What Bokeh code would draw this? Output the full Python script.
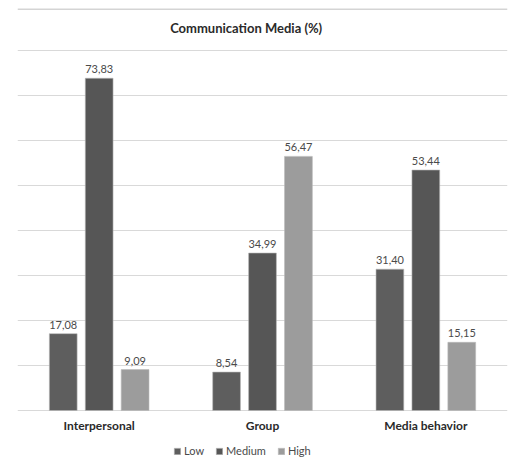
from bokeh.plotting import figure
from bokeh.models import (ColumnDataSource, FactorRange, Range1d, LabelSet, Label,
                          Span, Legend, LegendItem, FixedTicker)
from bokeh.transform import dodge
from bokeh.embed import file_html
from bokeh.resources import INLINE
from bokeh.core.properties import value

# Share of respondents (%) per communication medium and usage level
categories = ["Interpersonal", "Group", "Media behavior"]
low = [17.08, 8.54, 31.40]
medium = [73.83, 34.99, 53.44]
high = [9.09, 56.47, 15.15]
series_names = ["Low", "Medium", "High"]
series_values = [low, medium, high]
colors = ["#5e5e5e", "#565656", "#9c9c9c"]
grid_ticks = [0, 10, 20, 30, 40, 50, 60, 70, 80]
chart_title = "Communication Media (%)"

FONT = "Lato"

# the frame runs to the bottom edge; category names and legend sit below zero
p = figure(width=517, height=466, x_range=FactorRange(*categories, range_padding=0),
           y_range=Range1d(-12.444, 89.333), output_backend="svg", toolbar_location=None,
           min_border_left=17, min_border_right=10, min_border_top=8, min_border_bottom=0,
           background_fill_color="white", border_fill_color="white")
p.outline_line_color = None
p.xaxis.visible = False
p.yaxis.visible = False
p.xgrid.grid_line_color = None
p.ygrid.ticker = FixedTicker(ticks=grid_ticks)
p.ygrid.grid_line_color = "#d9d9d9"
p.ygrid.grid_line_width = 1

offsets = [-0.22, 0.0, 0.22]
items = []
for name, vals, col, off in zip(series_names, series_values, colors, offsets):
    src = ColumnDataSource(dict(cat=categories, val=vals,
                                txt=[f"{v:.2f}".replace(".", ",") for v in vals]))
    r = p.vbar(x=dodge("cat", off, range=p.x_range), top="val", width=0.17, source=src,
               fill_color=col, line_color="#b8b8b8", line_width=0.6)
    p.add_layout(LabelSet(x=dodge("cat", off, range=p.x_range), y="val", text="txt",
                          source=src, y_offset=5, text_align="center",
                          text_baseline="bottom", text_font=value(FONT),
                          text_font_size="11px", text_color="#4a4a4a"))
    items.append(LegendItem(label=name, renderers=[r]))

# category names under the baseline
cat_src = ColumnDataSource(dict(cat=categories, y=[0] * len(categories)))
p.add_layout(LabelSet(x="cat", y="y", text="cat", source=cat_src, y_offset=-15,
                      text_align="center", text_baseline="middle", text_font=value(FONT),
                      text_font_size="12px", text_font_style="bold", text_color="#2a2a2a"))

# thin rule along the top edge
p.add_layout(Span(location=89.2, dimension="width", line_color="#c6c6c6", line_width=1.5))

p.add_layout(Label(x=1.40, y=85.1, text=chart_title, text_align="center",
                   text_baseline="middle", text_font=FONT, text_font_size="13px",
                   text_font_style="bold", text_color="#2a2a2a"))

legend = Legend(items=items, orientation="horizontal", location=(156, 9),
                glyph_width=8, glyph_height=8, label_height=12, label_text_font=FONT,
                label_text_font_size="11px", label_text_color="#4a4a4a",
                label_standoff=3, spacing=11, margin=0, padding=2,
                border_line_color=None, background_fill_alpha=0)
p.add_layout(legend)

open("out.html", "w").write(file_html(p, INLINE))
